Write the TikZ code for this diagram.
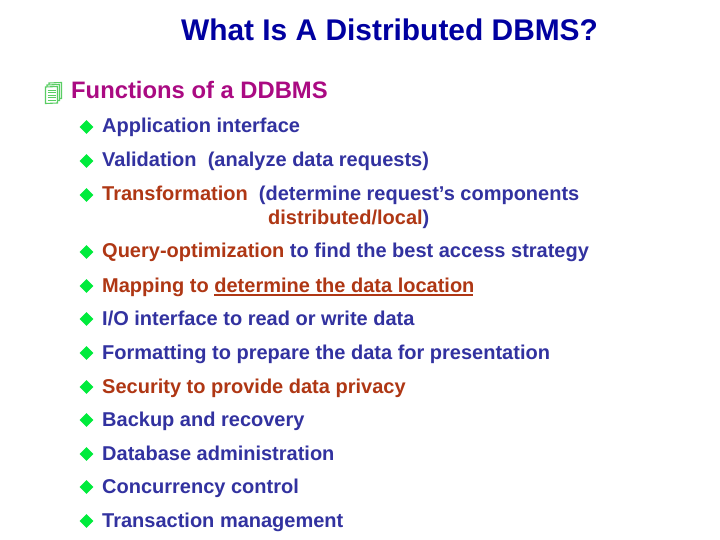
\documentclass[tikz,border=0pt]{standalone}
\usepackage{fontspec}
\setmainfont{Liberation Sans}
\usetikzlibrary{shapes.geometric}
\definecolor{ttl}{RGB}{0,0,160}
\definecolor{mag}{RGB}{170,10,130}
\definecolor{blu}{RGB}{50,50,160}
\definecolor{rst}{RGB}{175,55,20}
\definecolor{grn}{RGB}{0,235,60}
\definecolor{pal}{RGB}{90,205,100}
\newcommand{\R}[1]{\textcolor{rst}{#1}}
\tikzset{
  x=1pt,y=-1pt,
  txt/.style={anchor=base west,inner sep=0pt,font=\fontsize{20}{24}\selectfont\bfseries,text=blu},
  bul/.style={diamond,fill=grn,minimum width=14pt,minimum height=14pt,inner sep=0pt},
  page/.style={draw=pal,fill=white,line width=1.1pt},
  pline/.style={draw=pal,line width=0.9pt}
}
\begin{document}
\begin{tikzpicture}
\useasboundingbox (0,0) rectangle (720,540);
\fill[white] (0,0) rectangle (720,540);
\node[anchor=base,inner sep=0pt,font=\fontsize{29.9}{34}\selectfont\bfseries,text=ttl] (title) at (389.5,41) {What Is A Distributed DBMS?};
\draw[page] (49,83) -- (61.5,82.5) -- (61.5,98.5) -- (49,99) -- cycle;
\draw[page] (47,85) -- (59.5,84.5) -- (59.5,100.5) -- (47,101) -- cycle;
\draw[page] (45.5,87) -- (57.5,86.5) -- (57.5,103) -- (45.5,103.5) -- cycle;
\foreach \yy in {90,92.5,95,97.5,100}{\draw[pline] (47.5,\yy) -- (55.5,\yy);}
\node[anchor=base west,inner sep=0pt,font=\fontsize{23.8}{28}\selectfont\bfseries,text=mag] (head) at (71,99) {Functions of a DDBMS};
\node[bul] (b1) at (86.5,127) {}; \node[txt] (t1) at (102,133) {Application interface};
\node[bul] (b2) at (86.5,161) {}; \node[txt] (t2) at (102,167) {Validation\ \ (analyze data requests)};
\node[bul] (b3) at (86.5,195) {}; \node[txt] (t3) at (102,201) {\R{Transformation}\ \ (determine request’s components};
\node[txt] (t3b) at (268,225) {\R{distributed/local})};
\node[bul] (b4) at (86.5,252) {}; \node[txt] (t4) at (102,258) {\R{Query-optimization} to find the best access strategy};
\node[bul] (b5) at (86.5,286) {}; \node[txt] (t5) at (102,292) {\R{Mapping to determine the data location}};
\node[bul] (b6) at (86.5,319) {}; \node[txt] (t6) at (102,325) {I/O interface to read or write data};
\node[bul] (b7) at (86.5,353) {}; \node[txt] (t7) at (102,359) {Formatting to prepare the data for presentation};
\node[bul] (b8) at (86.5,387) {}; \node[txt] (t8) at (102,393) {\R{Security to provide data privacy}};
\node[bul] (b9) at (86.5,420) {}; \node[txt] (t9) at (102,426) {Backup and recovery};
\node[bul] (b10) at (86.5,454) {}; \node[txt] (t10) at (102,460) {Database administration};
\node[bul] (b11) at (86.5,487) {}; \node[txt] (t11) at (102,493) {Concurrency control};
\node[bul] (b12) at (86.5,521) {}; \node[txt] (t12) at (102,527) {Transaction management};
\draw[rst,line width=1.2pt] (214,295) -- (473,295);
\end{tikzpicture}
\end{document}
